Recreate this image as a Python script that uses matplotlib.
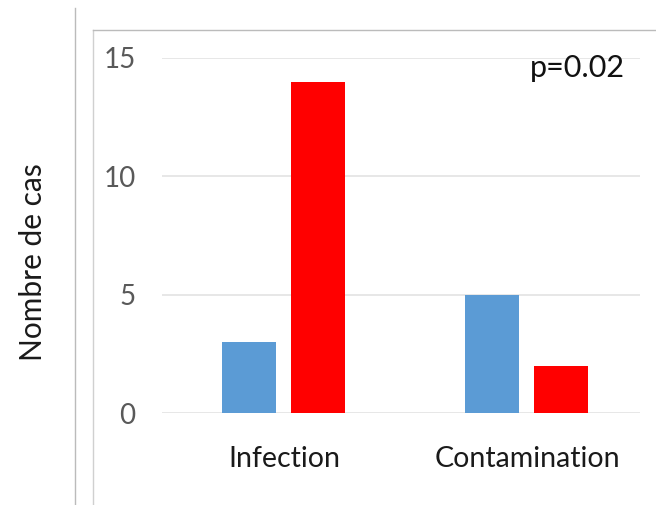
import matplotlib
matplotlib.use("Agg")
import matplotlib.pyplot as plt
from matplotlib.lines import Line2D
import numpy as np

categories = ["Infection", "Contamination"]
serie_bleue = [3, 5]
serie_rouge = [14, 2]
yticks = [0, 5, 10, 15]

W, H = 656, 505
fig = plt.figure(figsize=(W / 100, H / 100), dpi=100)
plt.rcParams['font.family'] = ['Lato', 'DejaVu Sans']

# plot area in pixels: x 162..640, y 58 (15) .. 413 (0)
ax = fig.add_axes([162 / W, 1 - 413 / H, (640 - 162) / W, (413 - 58) / H])

x = np.arange(len(categories))
w = 0.226
ax.bar(x - 0.144, serie_bleue, w, color="#5B9BD5", zorder=3)
ax.bar(x + 0.14, serie_rouge, w, color="#FF0000", zorder=3)

ax.set_xlim(-0.502, 1.465)
ax.set_ylim(0, 15)
ax.set_yticks(yticks)
ax.set_xticks(x)
ax.set_xticklabels(categories, fontsize=20.5, color="#1a1a1a")
ax.tick_params(axis="y", labelsize=20, labelcolor="#595959", length=0, pad=19)
ax.tick_params(axis="x", length=0, pad=24)
ax.grid(axis="y", color="#E3E3E3", linewidth=1.2, zorder=0)
for s in ax.spines.values():
    s.set_visible(False)

ax.text(1.403, 14.58, "p=0.02", fontsize=22, color="#111111", ha="right", va="center")

fig.text(33 / W, 1 - 262 / H, "Nombre de cas", rotation=90, fontsize=21.5,
         color="#1a1a1a", ha="center", va="center")

# frame lines around the picture
fig.add_artist(Line2D([75 / W, 75 / W], [0, 1 - 8 / H], color="#BBBBBB", lw=1))
fig.add_artist(Line2D([93 / W, 93 / W], [0, 1 - 30 / H], color="#D0D0D0", lw=1))
fig.add_artist(Line2D([93 / W, 1], [1 - 30 / H, 1 - 30 / H], color="#BBBBBB", lw=1))

fig.savefig("out.png", dpi=100)
